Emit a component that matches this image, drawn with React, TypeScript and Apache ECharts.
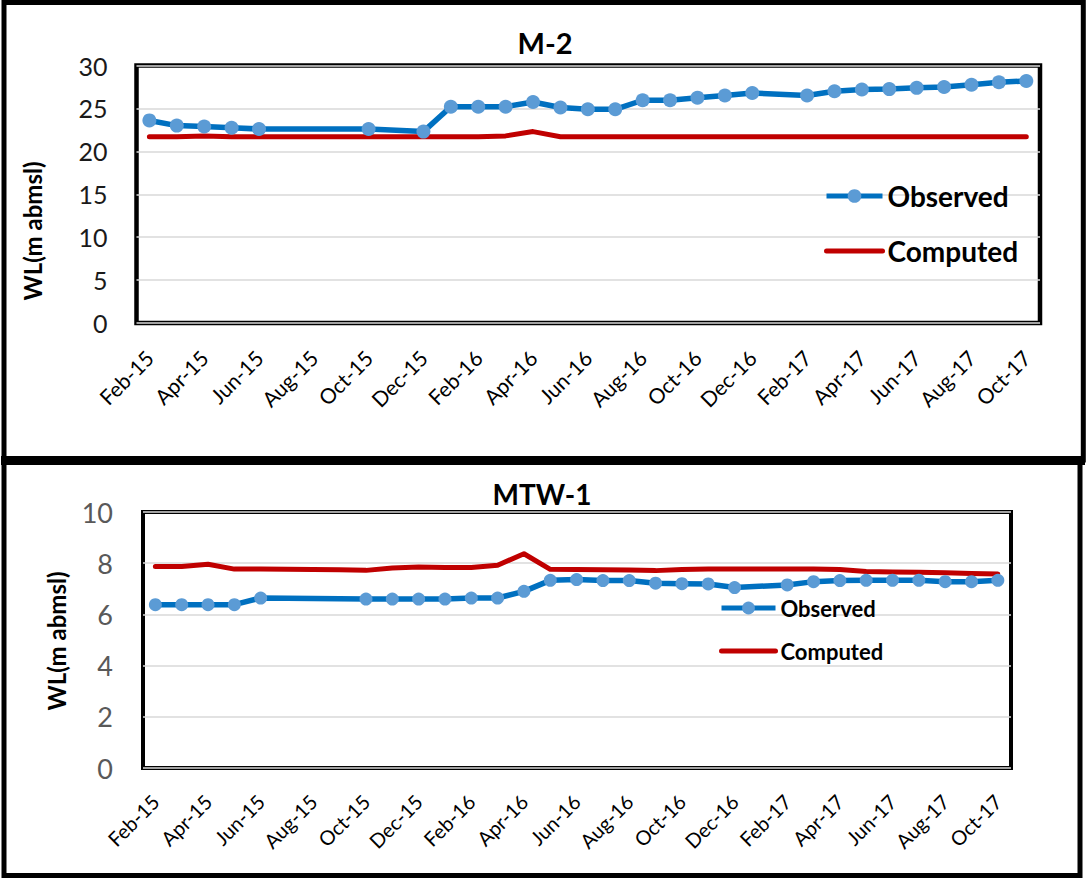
import React, { useEffect, useRef } from "react";
import * as echarts from "echarts";

// Monthly axis categories (Feb-15 .. Oct-17)
const MONTHS = [
  "Feb-15", "Mar-15", "Apr-15", "May-15", "Jun-15", "Jul-15", "Aug-15", "Sep-15", "Oct-15", "Nov-15", "Dec-15",
  "Jan-16", "Feb-16", "Mar-16", "Apr-16", "May-16", "Jun-16", "Jul-16", "Aug-16", "Sep-16", "Oct-16", "Nov-16", "Dec-16",
  "Jan-17", "Feb-17", "Mar-17", "Apr-17", "May-17", "Jun-17", "Jul-17", "Aug-17", "Sep-17", "Oct-17",
];

const TICK_LABELS = [
  "Feb-15", "Apr-15", "Jun-15", "Aug-15", "Oct-15", "Dec-15", "Feb-16", "Apr-16", "Jun-16",
  "Aug-16", "Oct-16", "Dec-16", "Feb-17", "Apr-17", "Jun-17", "Aug-17", "Oct-17",
];

// M-2 observed
const M2_OBS_DATES = [
  "Feb-15", "Mar-15", "Apr-15", "May-15", "Jun-15", "Oct-15", "Dec-15", "Jan-16", "Feb-16", "Mar-16",
  "Apr-16", "May-16", "Jun-16", "Jul-16", "Aug-16", "Sep-16", "Oct-16", "Nov-16", "Dec-16", "Feb-17",
  "Mar-17", "Apr-17", "May-17", "Jun-17", "Jul-17", "Aug-17", "Sep-17", "Oct-17",
];
const M2_OBS_VALUES = [
  23.6, 23.0, 22.9, 22.75, 22.6, 22.6, 22.3, 25.2, 25.2, 25.2,
  25.75, 25.1, 24.9, 24.9, 25.95, 25.95, 26.25, 26.5, 26.8, 26.5,
  27.0, 27.2, 27.25, 27.4, 27.5, 27.75, 28.05, 28.2,
];
// M-2 computed (every month Feb-15 .. Oct-17)
const M2_COMP_VALUES = [
  21.7, 21.7, 21.8, 21.7, 21.7, 21.7, 21.7, 21.7, 21.7, 21.7, 21.7,
  21.7, 21.7, 21.8, 22.3, 21.7, 21.7, 21.7, 21.7, 21.7, 21.7, 21.7, 21.7,
  21.7, 21.7, 21.7, 21.7, 21.7, 21.7, 21.7, 21.7, 21.7, 21.7,
];

// MTW-1 observed
const MTW1_OBS_DATES = [
  "Feb-15", "Mar-15", "Apr-15", "May-15", "Jun-15", "Oct-15", "Nov-15", "Dec-15", "Jan-16", "Feb-16",
  "Mar-16", "Apr-16", "May-16", "Jun-16", "Jul-16", "Aug-16", "Sep-16", "Oct-16", "Nov-16", "Dec-16",
  "Feb-17", "Mar-17", "Apr-17", "May-17", "Jun-17", "Jul-17", "Aug-17", "Sep-17", "Oct-17",
];
const MTW1_OBS_VALUES = [
  6.38, 6.38, 6.38, 6.38, 6.64, 6.6, 6.6, 6.6, 6.6, 6.64,
  6.64, 6.9, 7.33, 7.36, 7.32, 7.32, 7.22, 7.2, 7.19, 7.05,
  7.15, 7.28, 7.32, 7.33, 7.33, 7.33, 7.28, 7.28, 7.33,
];
// MTW-1 computed (every month Feb-15 .. Oct-17)
const MTW1_COMP_VALUES = [
  7.87, 7.87, 7.96, 7.77, 7.77, 7.76, 7.75, 7.74, 7.72, 7.81, 7.85,
  7.83, 7.83, 7.92, 8.37, 7.76, 7.75, 7.74, 7.73, 7.71, 7.75, 7.77, 7.77,
  7.77, 7.77, 7.77, 7.75, 7.68, 7.66, 7.65, 7.63, 7.6, 7.58,
];

const FONT = "Lato, 'Noto Sans', sans-serif";
const BLUE_LINE = "#0070C0";
const BLUE_MARK = "#5B9BD5";
const RED = "#C00000";

export default function App() {
  const ref = useRef<HTMLDivElement>(null);

  useEffect(() => {
    const chart = echarts.init(ref.current!, null, { renderer: "svg" });
    const idx = (m: string) => MONTHS.indexOf(m);
    const tickValues = TICK_LABELS.map(idx);

    const xAxisBase = (gridIndex: number, fontSize: number, margin: number) => ({
      type: "value",
      gridIndex,
      min: -0.47,
      max: 32.5,
      axisLine: { show: false },
      axisTick: { show: false },
      splitLine: { show: false },
      axisLabel: {
        customValues: tickValues,
        rotate: 45,
        margin,
        fontSize,
        fontFamily: FONT,
        color: "#000",
        formatter: (v: number) => MONTHS[Math.round(v)] ?? "",
      },
    });

    const obsSeries = (xi: number, dates: string[], values: number[], size: number) => ({
      name: "Observed",
      type: "line",
      xAxisIndex: xi,
      yAxisIndex: xi,
      data: dates.map((d, i) => [idx(d), values[i]]),
      symbol: "circle",
      symbolSize: size,
      showSymbol: true,
      lineStyle: { color: BLUE_LINE, width: 5.5, join: "round" },
      itemStyle: { color: BLUE_MARK, borderWidth: 0 },
    });

    const compSeries = (xi: number, values: number[]) => ({
      name: "Computed",
      type: "line",
      xAxisIndex: xi,
      yAxisIndex: xi,
      data: values.map((v, i) => [i, v]),
      symbol: "none",
      showSymbol: false,
      lineStyle: { color: RED, width: 5, join: "round", cap: "round" },
      itemStyle: { color: RED },
    });

    const legendData = [
      { name: "Observed" },
      { name: "Computed", itemStyle: { opacity: 0 } },
    ];

    const option: any = {
      animation: false,
      backgroundColor: "#fff",
      title: [
        {
          text: "M-2",
          left: 545,
          textAlign: "center",
          top: 28,
          padding: 0,
          textStyle: { fontSize: 29, fontWeight: "bold", color: "#000", fontFamily: FONT },
        },
        {
          text: "MTW-1",
          left: 542,
          textAlign: "center",
          top: 480,
          padding: 0,
          textStyle: { fontSize: 28, fontWeight: "bold", color: "#000", fontFamily: FONT },
        },
      ],
      legend: [
        {
          orient: "vertical",
          left: 824,
          top: 182,
          padding: 0,
          itemWidth: 56,
          itemHeight: 17,
          itemGap: 27,
          selectedMode: false,
          data: legendData,
          lineStyle: { width: 5 },
          textStyle: { fontSize: 28, fontWeight: "bold", color: "#000", fontFamily: FONT },
        },
        {
          orient: "vertical",
          left: 719,
          top: 597,
          padding: 0,
          itemWidth: 54,
          itemHeight: 16,
          itemGap: 21,
          selectedMode: false,
          data: legendData,
          lineStyle: { width: 5 },
          textStyle: { fontSize: 22, fontWeight: "bold", color: "#000", fontFamily: FONT },
        },
      ],
      grid: [
        {
          left: 136.5,
          top: 65.5,
          width: 903.5,
          height: 257.5,
          show: true,
          borderColor: "#000",
          borderWidth: 4.5,
          backgroundColor: "transparent",
        },
        {
          left: 143,
          top: 512,
          width: 868,
          height: 256,
          show: true,
          borderColor: "#000",
          borderWidth: 4,
          backgroundColor: "transparent",
        },
      ],
      xAxis: [xAxisBase(0, 21, 31), xAxisBase(1, 20, 30)],
      yAxis: [
        {
          type: "value",
          gridIndex: 0,
          min: 0,
          max: 30,
          interval: 5,
          axisLine: { show: false },
          axisTick: { show: false },
          splitLine: { show: true, lineStyle: { color: "#D9D9D9", width: 1.5 } },
          axisLabel: { margin: 29, fontSize: 25, fontFamily: FONT, color: "#1a1a1a" },
        },
        {
          type: "value",
          gridIndex: 1,
          min: 0,
          max: 10,
          interval: 2,
          axisLine: { show: false },
          axisTick: { show: false },
          splitLine: { show: true, lineStyle: { color: "#D9D9D9", width: 1.5 } },
          axisLabel: { margin: 30, fontSize: 27, fontFamily: FONT, color: "#595959" },
        },
      ],
      series: [
        obsSeries(0, M2_OBS_DATES, M2_OBS_VALUES, 14),
        compSeries(0, M2_COMP_VALUES),
        obsSeries(1, MTW1_OBS_DATES, MTW1_OBS_VALUES, 13),
        compSeries(1, MTW1_COMP_VALUES),
      ],
      graphic: [
        {
          type: "rect",
          shape: { x: 4, y: 2.5, width: 1079.3, height: 457.5 },
          style: { fill: "none", stroke: "#000", lineWidth: 5 },
          silent: true,
        },
        {
          type: "rect",
          shape: { x: 4, y: 460, width: 1076, height: 415.5 },
          style: { fill: "none", stroke: "#000", lineWidth: 5 },
          silent: true,
        },
        {
          type: "rect",
          shape: { x: 1, y: 456, width: 1084, height: 9 },
          style: { fill: "#000" },
          silent: true,
        },
        {
          type: "text",
          x: 32,
          y: 231,
          rotation: Math.PI / 2,
          style: {
            text: "WL(m abmsl)",
            fontSize: 24,
            fontWeight: "bold",
            fontFamily: FONT,
            fill: "#000",
            textAlign: "center",
            textVerticalAlign: "middle",
          },
          silent: true,
        },
        {
          type: "text",
          x: 56,
          y: 641,
          rotation: Math.PI / 2,
          style: {
            text: "WL(m abmsl)",
            fontSize: 24,
            fontWeight: "bold",
            fontFamily: FONT,
            fill: "#000",
            textAlign: "center",
            textVerticalAlign: "middle",
          },
          silent: true,
        },
      ],
    };

    chart.setOption(option);
    return () => chart.dispose();
  }, []);

  return (
    <div
      ref={ref}
      style={{ position: "fixed", left: 0, top: 0, width: 1086, height: 880, background: "#fff" }}
    />
  );
}
